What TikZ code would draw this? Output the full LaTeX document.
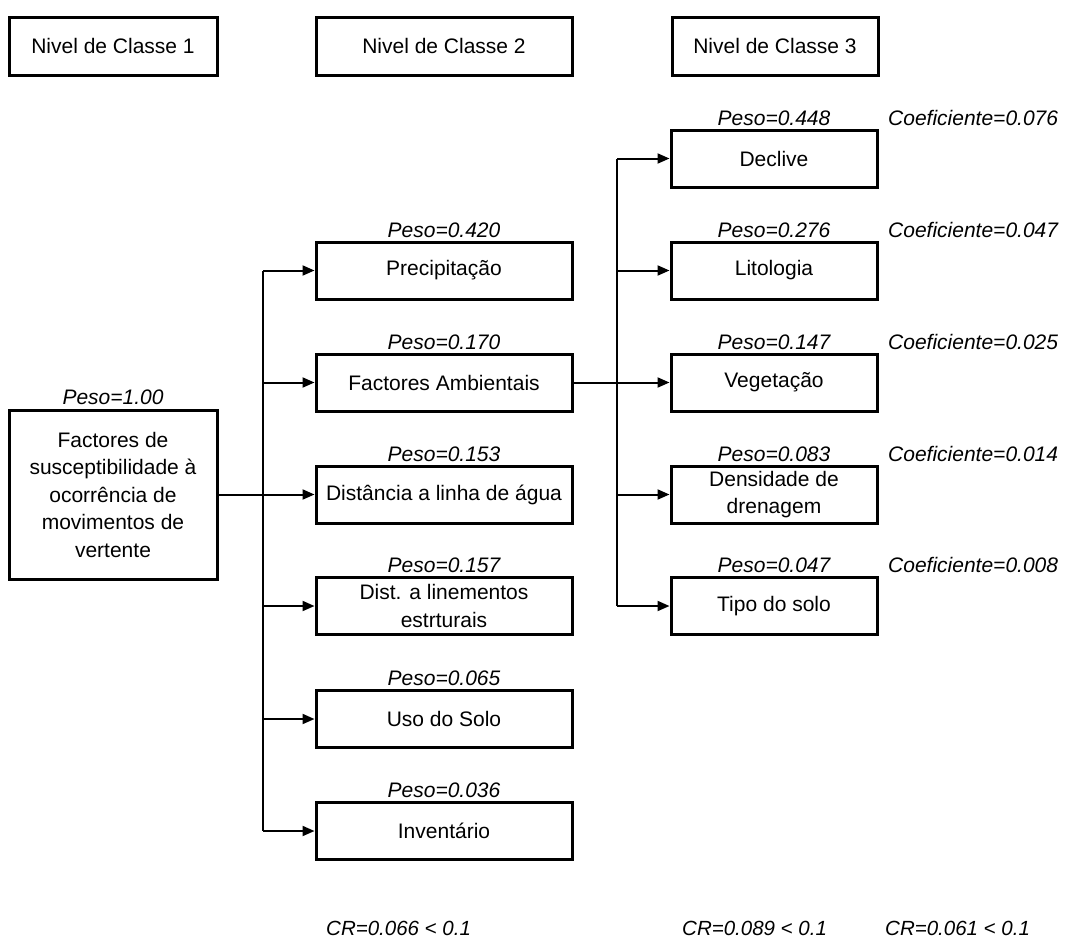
\documentclass[tikz,border=0pt]{standalone}
\usepackage{fontspec}
\setmainfont{Liberation Sans}
\usetikzlibrary{arrows.meta}
\begin{document}
\begin{tikzpicture}[x=1pt,y=-1pt,
  box/.style={draw=black, line width=3pt, rectangle, inner sep=0pt, align=center,
    font=\fontsize{21}{27.5}\selectfont, minimum height=57pt},
  hdr/.style={box, minimum height=58pt},
  lvlA/.style={minimum width=208pt},
  lvlB/.style={minimum width=256pt},
  lvlC/.style={minimum width=206pt},
  lbl/.style={anchor=base, inner sep=0pt, font=\fontsize{21}{24}\selectfont\itshape},
  coef/.style={anchor=base west, inner sep=0pt, font=\fontsize{21}{24}\selectfont\itshape},
  crl/.style={anchor=base west, inner sep=0pt, font=\fontsize{20.5}{24}\selectfont\itshape},
  conn/.style={line width=2pt, draw=black},
  arr/.style={conn, -{Triangle[length=12pt,width=10pt]}}
]
\useasboundingbox (0,0) rectangle (1072,940);

% headers
\node[hdr,lvlA] (h1) at (113,46) {Nivel de Classe 1};
\node[hdr,lvlB] (h2) at (444,46) {Nivel de Classe 2};
\node[hdr,lvlC] (h3) at (775,46) {Nivel de Classe 3};

% level 1
\node[box,lvlA,minimum height=169pt] (root) at (113,494.5)
  {Factores de\\susceptibilidade à\\ocorrência de\\movimentos de\\vertente};
\node[lbl] (proot) at (113,404.5) {Peso=1.00};

% level 2
\node[box,lvlB] (prec) at (444,270.5) {Precipitação};
\node[box,lvlB] (fa)   at (444,382.5) {Factores Ambientais};
\node[box,lvlB] (dist) at (444,494.5) {Distância a linha de água};
\node[box,lvlB] (lin)  at (444,606)   {Dist. a linementos\\estrturais};
\node[box,lvlB] (uso)  at (444,719)   {Uso do Solo};
\node[box,lvlB] (inv)  at (444,831)   {Inventário};

\node[lbl] (pprec) at (444,237) {Peso=0.420};
\node[lbl] (pfa)   at (444,349) {Peso=0.170};
\node[lbl] (pdist) at (444,461) {Peso=0.153};
\node[lbl] (plin)  at (444,572.5) {Peso=0.157};
\node[lbl] (puso)  at (444,685.5) {Peso=0.065};
\node[lbl] (pinv)  at (444,797.5) {Peso=0.036};

% level 3
\node[box,lvlC] (dec)  at (774,158.5) {Declive};
\node[box,lvlC] (lit)  at (774,270.5) {Litologia};
\node[box,lvlC] (veg)  at (774,382.5) {Vegetação};
\node[box,lvlC] (dens) at (774,494.5) {Densidade de\\drenagem};
\node[box,lvlC] (tipo) at (774,606)   {Tipo do solo};

\node[lbl] (pdec)  at (774,125) {Peso=0.448};
\node[lbl] (plit)  at (774,237) {Peso=0.276};
\node[lbl] (pveg)  at (774,349) {Peso=0.147};
\node[lbl] (pdens) at (774,461) {Peso=0.083};
\node[lbl] (ptipo) at (774,572.5) {Peso=0.047};

\node[coef] (cdec)  at (888,125) {Coeficiente=0.076};
\node[coef] (clit)  at (888,237) {Coeficiente=0.047};
\node[coef] (cveg)  at (888,349) {Coeficiente=0.025};
\node[coef] (cdens) at (888,461) {Coeficiente=0.014};
\node[coef] (ctipo) at (888,572.5) {Coeficiente=0.008};

% CR values
\node[crl] (cr1) at (326,935) {CR=0.066 < 0.1};
\node[crl] (cr2) at (682,935) {CR=0.089 < 0.1};
\node[crl] (cr3) at (885,935) {CR=0.061 < 0.1};

% connectors level 1 -> 2
\coordinate (t2) at (263,0);
\draw[conn] (t2 |- prec.west) -- (t2 |- inv.west);
\draw[arr] (root.east) -- (dist.west);
\draw[arr] (t2 |- prec.west) -- (prec.west);
\draw[arr] (t2 |- fa.west) -- (fa.west);
\draw[arr] (t2 |- lin.west) -- (lin.west);
\draw[arr] (t2 |- uso.west) -- (uso.west);
\draw[arr] (t2 |- inv.west) -- (inv.west);

% connectors level 2 -> 3
\coordinate (t3) at (617,0);
\draw[conn] (t3 |- dec.west) -- (t3 |- tipo.west);
\draw[arr] (fa.east) -- (veg.west);
\draw[arr] (t3 |- dec.west) -- (dec.west);
\draw[arr] (t3 |- lit.west) -- (lit.west);
\draw[arr] (t3 |- dens.west) -- (dens.west);
\draw[arr] (t3 |- tipo.west) -- (tipo.west);
\end{tikzpicture}
\end{document}
